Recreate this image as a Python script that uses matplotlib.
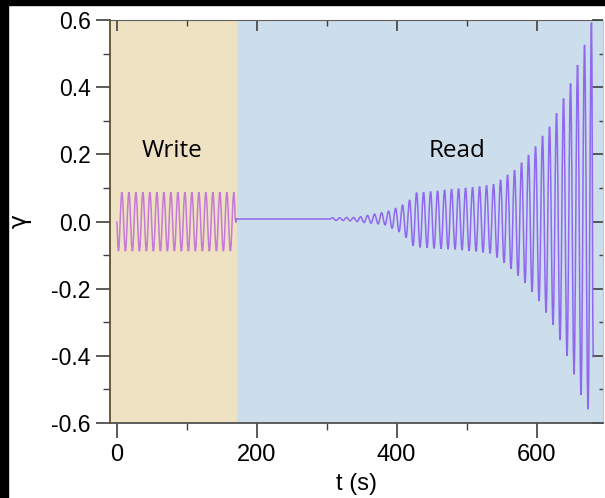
import numpy as np
import matplotlib
matplotlib.use("Agg")
import matplotlib.pyplot as plt
from matplotlib.patches import Rectangle, PathPatch
from matplotlib.path import Path
from matplotlib.ticker import MultipleLocator, FormatStrFormatter

plt.rcParams['font.family'] = ['Liberation Sans', 'DejaVu Sans']

# --- data ---
# write phase: extrema of the imposed oscillation
write_trough_t = [2.5, 12.5, 22.5, 32.5, 42.5, 52.5, 62.5, 72.5, 82.5, 92.5,
                  102.5, 112.5, 122.5, 132.5, 142.5, 152.5, 162.5]
write_trough_v = [-0.088, -0.088, -0.088, -0.088, -0.088, -0.088, -0.088, -0.088, -0.088,
                  -0.088, -0.088, -0.088, -0.088, -0.088, -0.088, -0.088, -0.088]
write_peak_t = [7.5, 17.5, 27.5, 37.5, 47.5, 57.5, 67.5, 77.5, 87.5, 97.5,
                107.5, 117.5, 127.5, 137.5, 147.5, 157.5, 167.5]
write_peak_v = [0.087, 0.087, 0.087, 0.087, 0.087, 0.087, 0.087, 0.087, 0.087,
                0.087, 0.087, 0.087, 0.087, 0.087, 0.087, 0.087, 0.087]
write_start = (0, 0.0)
write_end = (170, 0.0)

# read phase: rest level, then growing oscillation
rest_t = [170, 304]
rest_v = [0.007, 0.007]
read_peak_t = [308.6, 318.6, 328.6, 338.6, 348.6, 358.6, 368.6, 378.6, 388.6, 398.6,
               408.6, 418.6, 428.6, 438.6, 448.6, 458.6, 468.6, 478.6, 488.6, 498.6,
               508.6, 518.6, 528.6, 538.6, 548.6, 558.6, 568.6, 578.6, 588.6, 598.6,
               608.6, 618.6, 628.6, 638.6, 648.6, 658.6, 668.6, 678.6]
read_peak_v = [0.011, 0.011, 0.012, 0.012, 0.014, 0.018, 0.022, 0.026, 0.031, 0.039,
               0.049, 0.064, 0.086, 0.087, 0.089, 0.091, 0.094, 0.096, 0.098, 0.100,
               0.102, 0.104, 0.107, 0.111, 0.124, 0.139, 0.153, 0.175, 0.198, 0.223,
               0.255, 0.282, 0.322, 0.366, 0.411, 0.466, 0.526, 0.592]
read_trough_t = [313.6, 323.6, 333.6, 343.6, 353.6, 363.6, 373.6, 383.6, 393.6, 403.6,
                 413.6, 423.6, 433.6, 443.6, 453.6, 463.6, 473.6, 483.6, 493.6, 503.6,
                 513.6, 523.6, 533.6, 543.6, 553.6, 563.6, 573.6, 583.6, 593.6, 603.6,
                 613.6, 623.6, 633.6, 643.6, 653.6, 663.6, 673.6]
read_trough_v = [0.003, 0.003, 0.002, 0.000, -0.003, -0.005, -0.007, -0.010, -0.020, -0.030,
                 -0.048, -0.072, -0.077, -0.078, -0.080, -0.081, -0.082, -0.083, -0.085, -0.087,
                 -0.089, -0.092, -0.095, -0.107, -0.123, -0.141, -0.161, -0.183, -0.209, -0.237,
                 -0.271, -0.308, -0.353, -0.400, -0.455, -0.516, -0.559]
read_end = (681, -0.405)

# build the extrema sequences by interleaving
wt = [write_start[0]]
wv = [write_start[1]]
for a, b, c, d in zip(write_trough_t, write_trough_v, write_peak_t, write_peak_v):
    wt += [a, c]
    wv += [b, d]
wt.append(write_end[0])
wv.append(write_end[1])

rt = list(rest_t)
rv = list(rest_v)
for i in range(len(read_peak_t)):
    rt.append(read_peak_t[i])
    rv.append(read_peak_v[i])
    if i < len(read_trough_t):
        rt.append(read_trough_t[i])
        rv.append(read_trough_v[i])
rt.append(read_end[0])
rv.append(read_end[1])


def wave_path(ts, vs):
    # smooth curve through the extrema: cubic bezier segments with flat tangents
    verts = [(ts[0], vs[0])]
    codes = [Path.MOVETO]
    for i in range(1, len(ts)):
        t0, v0, t1, v1 = ts[i - 1], vs[i - 1], ts[i], vs[i]
        d = (t1 - t0) * 0.3642
        verts += [(t0 + d, v0), (t1 - d, v1), (t1, v1)]
        codes += [Path.CURVE4] * 3
    return Path(verts, codes)


# --- figure ---
W, H = 605, 498
fig = plt.figure(figsize=(W / 100, H / 100), dpi=100)
fig.patch.set_facecolor('white')
# black screenshot borders
fig.patches.append(Rectangle((0, 1 - 5 / H), 1, 5 / H, transform=fig.transFigure,
                             color='black', zorder=0))
fig.patches.append(Rectangle((0, 0), 8 / W, 1, transform=fig.transFigure,
                             color='black', zorder=0))

ax = fig.add_axes([110 / W, (H - 423) / H, 493 / W, 403 / H])
ax.axvspan(-50, 172, color='#efe2c3', lw=0, zorder=0)
ax.axvspan(172, 800, color='#ccddec', lw=0, zorder=0)

ax.add_patch(PathPatch(wave_path(wt, wv), fill=False, edgecolor='#c57ad6', lw=1.1, zorder=2))
# rest segment is straight, then the oscillation
ax.plot(rt[:2], rv[:2], color='#9068f0', lw=1.1, zorder=2)
ax.add_patch(PathPatch(wave_path(rt[1:], rv[1:]), fill=False, edgecolor='#9068f0', lw=1.1,
                       zorder=2))
ax.plot([wt[-1], rt[0]], [wv[-1], rv[0]], color='#9068f0', lw=1.1, zorder=2)

ax.set_xlim(-9.5, 695)
ax.set_ylim(-0.6, 0.6)

ax.text(79, 0.21, 'Write', family=['Open Sans', 'DejaVu Sans'], fontsize=17.5,
        ha='center', va='center')
ax.text(487, 0.21, 'Read', family=['Open Sans', 'DejaVu Sans'], fontsize=17.5,
        ha='center', va='center')

ax.set_xlabel('t (s)', fontsize=17, labelpad=5)
ax.set_ylabel('γ', fontsize=17, labelpad=14, family=['DejaVu Sans'])

ax.xaxis.set_major_locator(MultipleLocator(200))
ax.xaxis.set_minor_locator(MultipleLocator(100))
ax.yaxis.set_major_locator(MultipleLocator(0.2))
ax.yaxis.set_minor_locator(MultipleLocator(0.1))
ax.yaxis.set_major_formatter(FormatStrFormatter('%.1f'))
ax.tick_params(which='major', direction='out', length=10, width=1.2,
               color='#404040', labelsize=16.5, pad=4)
ax.tick_params(which='minor', direction='out', length=5, width=1.0, color='#404040')
ax.tick_params(axis='x', which='major', length=11, labelsize=17)

top = ax.secondary_xaxis('top')
top.xaxis.set_major_locator(MultipleLocator(200))
top.xaxis.set_minor_locator(MultipleLocator(100))
top.tick_params(which='major', direction='in', length=8, width=1.2, color='#404040',
                labeltop=False)
top.tick_params(which='minor', direction='in', length=4, width=1.0, color='#404040')
top.spines['top'].set_color('#606060')

right = ax.secondary_yaxis('right')
right.yaxis.set_major_locator(MultipleLocator(0.2))
right.yaxis.set_minor_locator(MultipleLocator(0.1))
right.tick_params(which='major', direction='in', length=8, width=1.2, color='#404040',
                  labelright=False)
right.tick_params(which='minor', direction='in', length=3, width=1.0, color='#404040')
right.spines['right'].set_color('#c0c8d0')

ax.spines['left'].set_color('#5e4f30')
ax.spines['left'].set_linewidth(1.3)
ax.spines['bottom'].set_color('#505050')
ax.spines['bottom'].set_linewidth(1.3)
ax.spines['top'].set_visible(False)
ax.spines['right'].set_visible(False)

fig.savefig('out.png', dpi=100)
